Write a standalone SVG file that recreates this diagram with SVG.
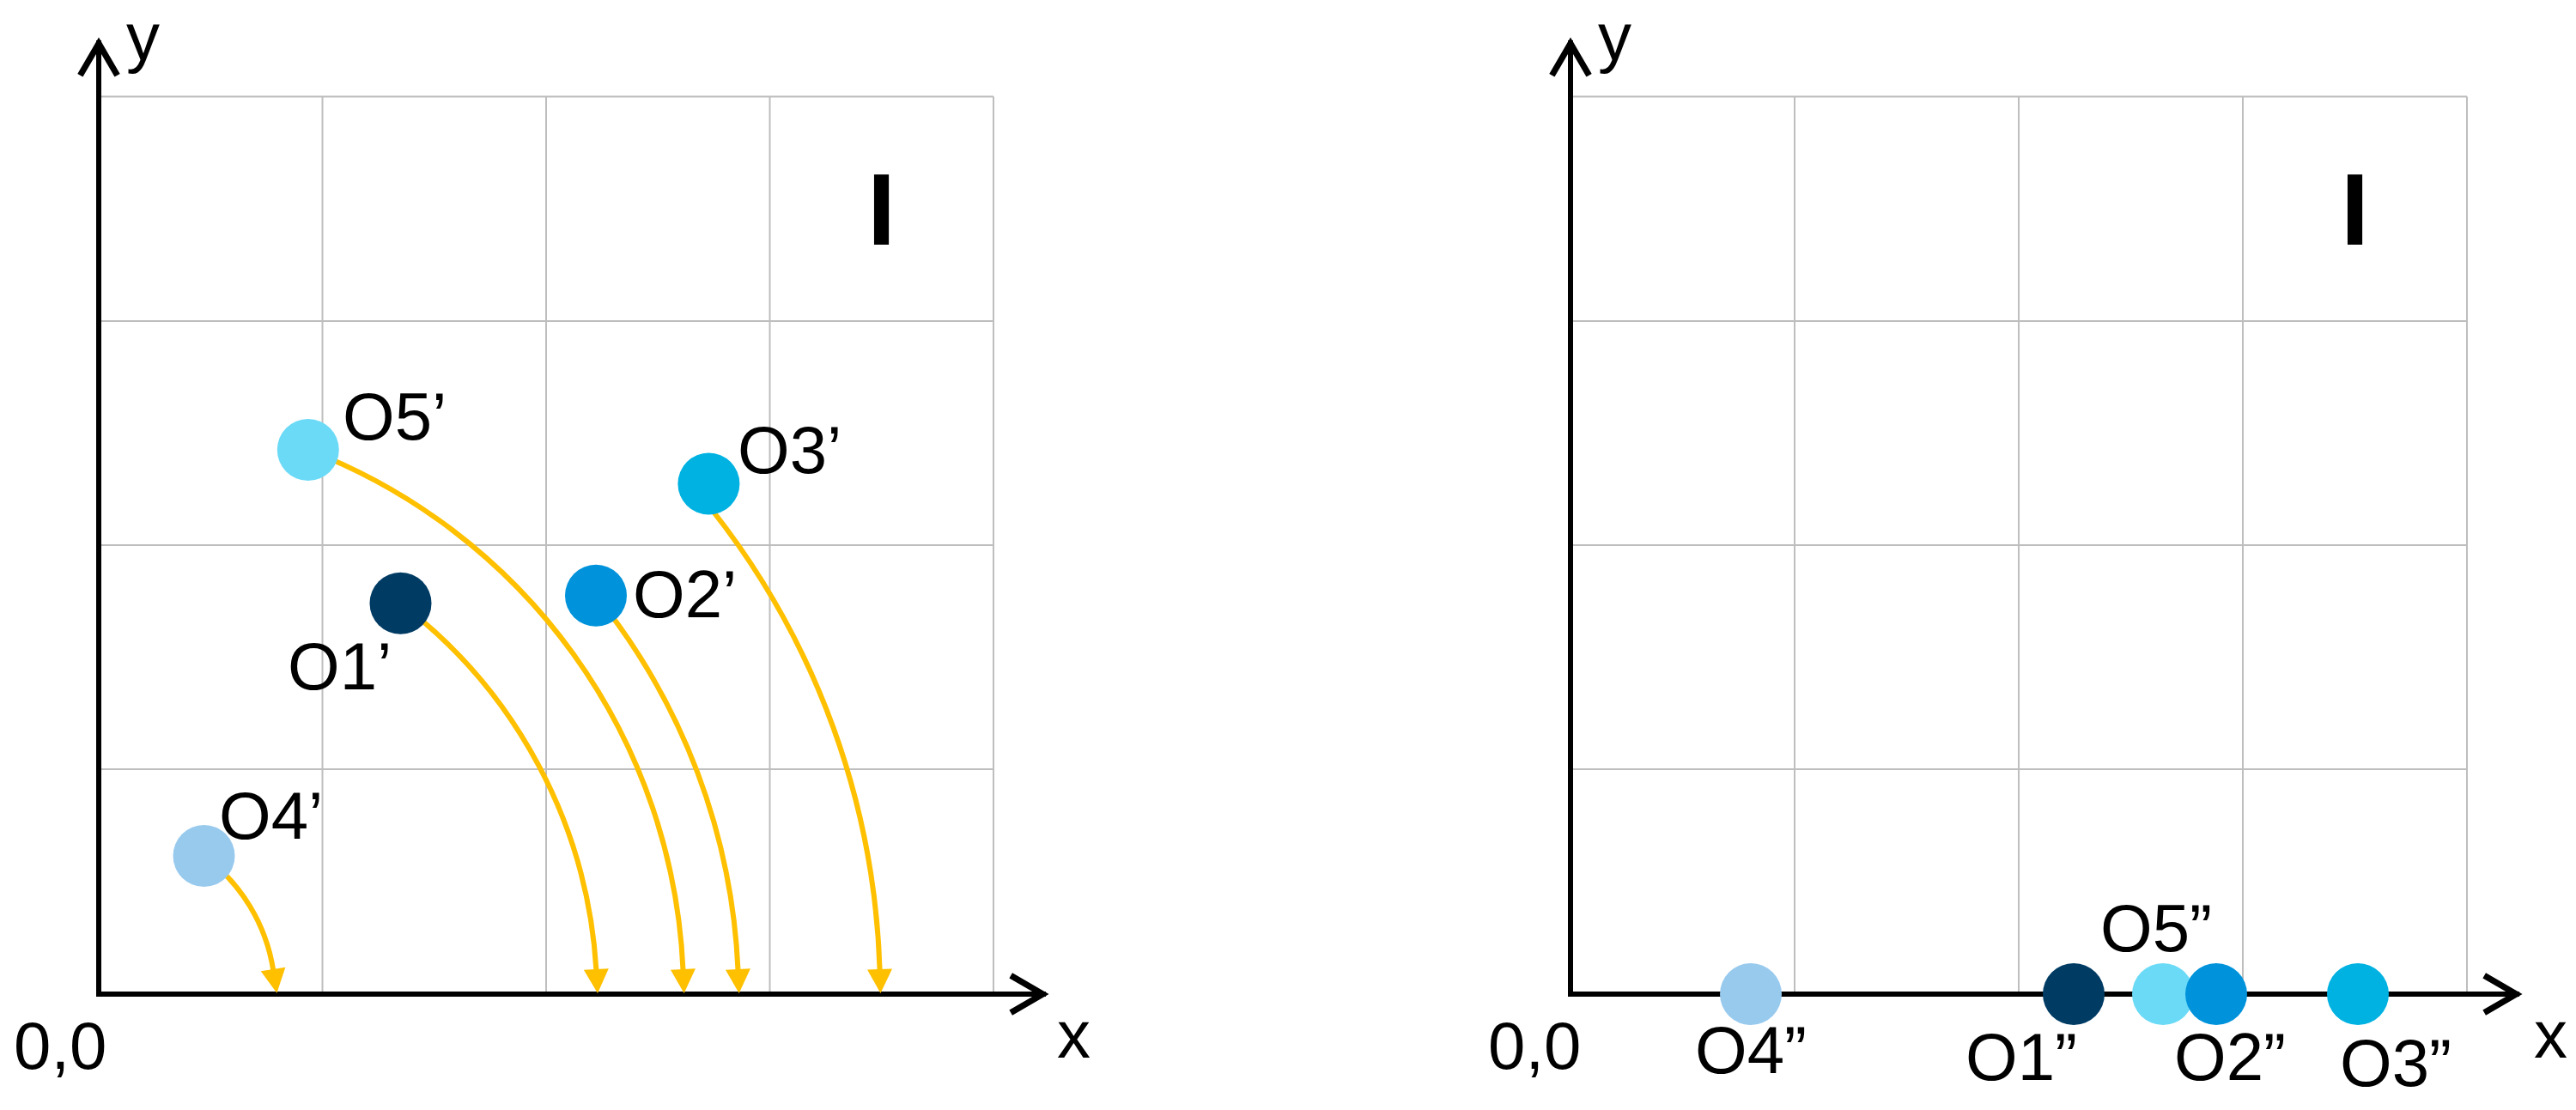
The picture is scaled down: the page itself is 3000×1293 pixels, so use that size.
<svg xmlns="http://www.w3.org/2000/svg" width="3000" height="1293" viewBox="0 0 3000 1293">
  <style>
    .grid { stroke: #BEBEBE; stroke-width: 2; fill: none; }
    .axis { stroke: #000; stroke-width: 6; fill: none; }
    .conn { stroke: #FFC000; stroke-width: 6; fill: none; }
    .lbl { font-family: "Liberation Sans", Arial, sans-serif; font-size: 78px; fill: #000; }
    .quad { font-family: "Liberation Sans", Arial, sans-serif; font-size: 119px; font-weight: bold; fill: #000; text-anchor: middle; }
    .c1 { fill: #003B64; }
    .c2 { fill: #0093DB; }
    .c3 { fill: #00B2E1; }
    .c4 { fill: #98CAEE; }
    .c5 { fill: #6BDAF7; }
  </style>
  <defs>
    <marker id="chev" markerUnits="userSpaceOnUse" orient="auto-start-reverse" refX="0" refY="0" markerWidth="60" markerHeight="60" viewBox="-40 -25 50 50" overflow="visible">
      <path d="M -34 -18 L -3 0 L -34 18" fill="none" stroke="#000" stroke-width="6"/>
    </marker>
    <marker id="tri" markerUnits="userSpaceOnUse" orient="auto" refX="1" refY="0" markerWidth="32" markerHeight="32" viewBox="0 -16 32 32" overflow="visible">
      <path d="M 0 -14.5 L 28 0 L 0 14.5 Z" fill="#FFC000"/>
    </marker>
  </defs>
  <rect x="0" y="0" width="3000" height="1293" fill="#fff"/>

  <!-- Left panel grid -->
  <g id="grid-left" class="grid">
    <path d="M115 112.5 H1157 M115 374 H1157 M115 635 H1157 M115 896 H1157"/>
    <path d="M375.5 112.5 V1158 M636 112.5 V1158 M896.5 112.5 V1158 M1157 112.5 V1158"/>
  </g>
  <!-- Right panel grid -->
  <g id="grid-right" class="grid">
    <path d="M1829 112.5 H2873 M1829 374 H2873 M1829 635 H2873 M1829 896 H2873"/>
    <path d="M2090 112.5 V1158 M2351 112.5 V1158 M2612 112.5 V1158 M2873 112.5 V1158"/>
  </g>

  <!-- Axes -->
  <g id="axes-left">
    <path class="axis" d="M115 47 V1158 H1218" marker-start="url(#chev)" marker-end="url(#chev)"/>
    <text class="lbl" x="147" y="70">y</text>
    <text class="lbl" x="1231" y="1232">x</text>
    <text class="lbl" x="16" y="1245">0,0</text>
    <text class="quad" x="1026.5" y="285">I</text>
  </g>
  <g id="axes-right">
    <path class="axis" d="M1829 47 V1158 H2934" marker-start="url(#chev)" marker-end="url(#chev)"/>
    <text class="lbl" x="1861" y="70">y</text>
    <text class="lbl" x="2951" y="1232">x</text>
    <text class="lbl" x="1733" y="1245">0,0</text>
    <text class="quad" x="2742.5" y="285">I</text>
  </g>

  <!-- Connectors (rotation arcs) -->
  <g id="connectors">
    <path class="conn" d="M237.5 997 A205 205 0 0 1 318.2 1130" marker-end="url(#tri)"/>
    <path class="conn" d="M466.5 702.7 A580 580 0 0 1 694.4 1130" marker-end="url(#tri)"/>
    <path class="conn" d="M358.8 524 A681 681 0 0 1 795.5 1130" marker-end="url(#tri)"/>
    <path class="conn" d="M694 693.7 A745 745 0 0 1 859.5 1130" marker-end="url(#tri)"/>
    <path class="conn" d="M830 595 A910 910 0 0 1 1024.6 1130" marker-end="url(#tri)"/>
  </g>

  <!-- Left nodes -->
  <g id="node-O1p"><circle class="c1" cx="466.5" cy="702.7" r="36"/><text class="lbl" x="335" y="803">O1’</text></g>
  <g id="node-O2p"><circle class="c2" cx="694" cy="693.7" r="36"/><text class="lbl" x="737" y="719">O2’</text></g>
  <g id="node-O3p"><circle class="c3" cx="825.4" cy="563.5" r="36"/><text class="lbl" x="859" y="551">O3’</text></g>
  <g id="node-O4p"><circle class="c4" cx="237.5" cy="997" r="36"/><text class="lbl" x="255" y="977">O4’</text></g>
  <g id="node-O5p"><circle class="c5" cx="358.8" cy="524" r="36"/><text class="lbl" x="399" y="512">O5’</text></g>

  <!-- Right nodes -->
  <g id="node-O4pp"><circle class="c4" cx="2039" cy="1158" r="36"/><text class="lbl" x="1974" y="1250">O4”</text></g>
  <g id="node-O1pp"><circle class="c1" cx="2415" cy="1158" r="36"/><text class="lbl" x="2289" y="1258">O1”</text></g>
  <g id="node-O5pp"><circle class="c5" cx="2519" cy="1158" r="36"/><text class="lbl" x="2446" y="1108">O5”</text></g>
  <g id="node-O2pp"><circle class="c2" cx="2581" cy="1158" r="36"/><text class="lbl" x="2532" y="1258">O2”</text></g>
  <g id="node-O3pp"><circle class="c3" cx="2746" cy="1158" r="36"/><text class="lbl" x="2725" y="1265">O3”</text></g>
</svg>
